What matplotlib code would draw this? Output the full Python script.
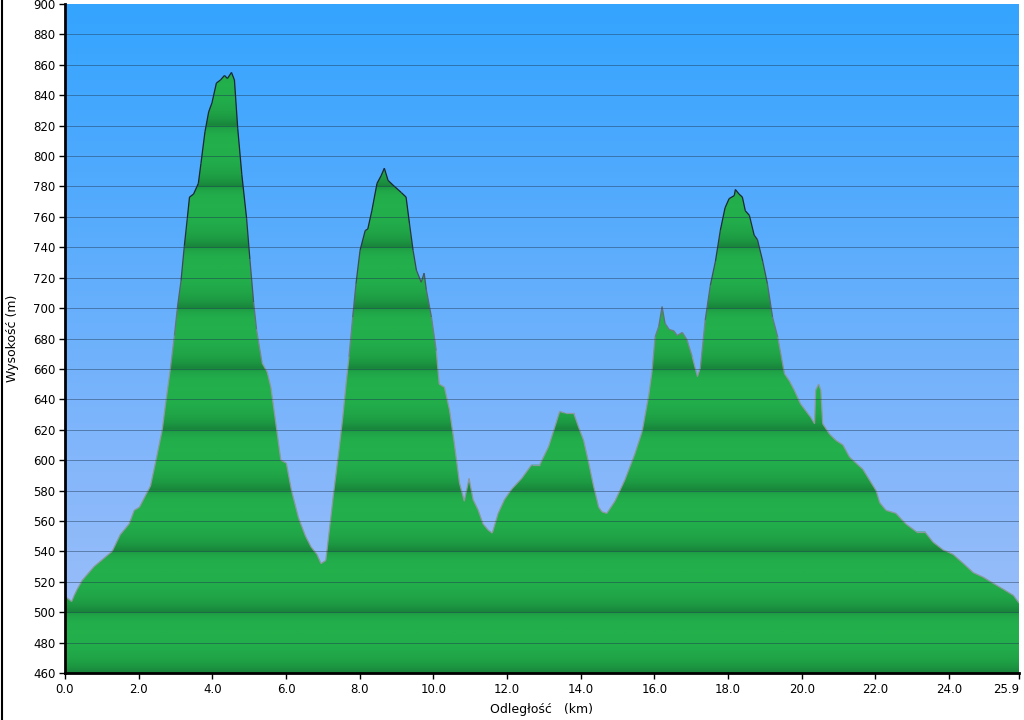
#!/usr/bin/env python3
# -*- coding: utf-8 -*-

r""" Elevation profile (profil wysokości) """

import numpy as np
from matplotlib import pyplot as plt
from matplotlib.colors import LinearSegmentedColormap
from matplotlib.collections import LineCollection
from matplotlib.lines import Line2D

# distance [km] and elevation [m]
dist_km = [0.00, 0.08, 0.18, 0.25, 0.33, 0.47, 0.79, 1.28, 1.50, 1.74,
           1.88, 2.02, 2.32, 2.48, 2.64, 2.73, 2.86, 2.97, 3.05, 3.15,
           3.24, 3.32, 3.38, 3.49, 3.62, 3.69, 3.80, 3.90, 3.99, 4.11,
           4.22, 4.33, 4.41, 4.52, 4.60, 4.69, 4.80, 4.93, 5.02, 5.12,
           5.20, 5.35, 5.49, 5.59, 5.72, 5.86, 6.01, 6.15, 6.34, 6.53,
           6.68, 6.84, 6.95, 7.08, 7.22, 7.30, 7.44, 7.54, 7.63, 7.71,
           7.81, 7.90, 8.01, 8.15, 8.22, 8.33, 8.47, 8.58, 8.67, 8.77,
           8.90, 9.13, 9.26, 9.35, 9.45, 9.54, 9.67, 9.75, 9.81, 9.95,
           10.08, 10.16, 10.30, 10.44, 10.57, 10.71, 10.84, 10.97, 11.08, 11.22,
           11.35, 11.49, 11.60, 11.76, 11.93, 12.13, 12.40, 12.67, 12.89, 13.13,
           13.30, 13.43, 13.57, 13.81, 13.94, 14.08, 14.22, 14.35, 14.49, 14.58,
           14.71, 14.93, 15.20, 15.47, 15.67, 15.85, 15.94, 16.02, 16.12, 16.21,
           16.29, 16.40, 16.53, 16.62, 16.76, 16.89, 17.03, 17.17, 17.25, 17.38,
           17.52, 17.66, 17.79, 17.92, 18.03, 18.17, 18.20, 18.30, 18.39, 18.47,
           18.58, 18.71, 18.80, 18.94, 19.07, 19.21, 19.35, 19.53, 19.67, 19.80,
           19.97, 20.25, 20.35, 20.38, 20.46, 20.52, 20.57, 20.76, 20.93, 21.12,
           21.30, 21.66, 22.02, 22.12, 22.29, 22.56, 22.83, 23.11, 23.34, 23.57,
           23.84, 24.11, 24.39, 24.66, 24.93, 25.20, 25.48, 25.75, 25.90]
elev_m = [510, 509, 507, 511, 515, 521, 530, 540, 551, 558,
          567, 569, 583, 601, 620, 637, 660, 682, 700, 718,
          741, 759, 773, 775, 782, 795, 816, 829, 835, 848,
          850, 853, 851, 855, 850, 818, 788, 759, 732, 704,
          686, 664, 658, 648, 625, 600, 598, 580, 562, 550,
          543, 538, 532, 534, 563, 580, 607, 628, 650, 668,
          694, 716, 738, 751, 752, 764, 782, 787, 792, 784,
          781, 776, 773, 756, 738, 725, 717, 723, 712, 694,
          672, 650, 648, 633, 611, 585, 573, 588, 574, 567,
          558, 554, 552, 565, 574, 581, 588, 597, 597, 609,
          622, 632, 631, 631, 622, 613, 598, 583, 569, 566,
          565, 573, 587, 604, 619, 643, 659, 681, 688, 701,
          690, 686, 685, 682, 684, 679, 668, 655, 661, 692,
          715, 731, 751, 766, 772, 774, 778, 775, 773, 764,
          761, 748, 745, 731, 716, 694, 681, 657, 652, 646,
          637, 628, 624, 646, 650, 646, 624, 617, 613, 610,
          602, 594, 580, 572, 567, 565, 558, 553, 553, 546,
          541, 538, 532, 526, 523, 519, 515, 511, 506]

y_ticks = list(range(460, 901, 20))
x_ticks = [0.0, 2.0, 4.0, 6.0, 8.0, 10.0, 12.0, 14.0, 16.0, 18.0, 20.0,
           22.0, 24.0, 25.9]

if __name__ == "__main__":
    fig = plt.figure(figsize=(10.24, 7.2), dpi=100)
    ax = fig.add_axes([65 / 1024, 47 / 720, 954 / 1024, 669 / 720])
    x0, x1, y0, y1 = 0.0, 25.9, 460, 900
    ax.set_xlim(x0, x1)
    ax.set_ylim(y0, y1)

    # sky: blue vertical gradient
    sky = LinearSegmentedColormap.from_list(
        "sky", ["#a2c0f8", "#82b6fb", "#58acfd", "#34a4ff"])
    grad = np.linspace(0, 1, 256).reshape(-1, 1)
    ax.imshow(grad, cmap=sky, origin="lower", aspect="auto",
              extent=[x0, x1, y0, y1], zorder=0)

    # terrain: green, soft darker band around every 40 m line
    yy = np.linspace(y0, y1, 3000)
    t = ((yy - 460) % 40) / 40.0
    dark = np.exp(-t / 0.22) + 0.55 * np.exp(-(1 - t) / 0.1)
    band = 1 - np.clip(dark, 0, 1)
    green = LinearSegmentedColormap.from_list(
        "green", ["#18823a", "#1d9a43", "#23b04c"])
    img = ax.imshow(band.reshape(-1, 1), cmap=green, origin="lower",
                    aspect="auto", extent=[x0, x1, y0, y1], zorder=1,
                    interpolation="bilinear")
    poly = ax.fill_between(dist_km, elev_m, y0, facecolor="none",
                           edgecolor="none", zorder=1)
    img.set_clip_path(poly.get_paths()[0], transform=ax.transData)

    # outline: grey low down, dark navy near the summits
    pts = np.column_stack([dist_km, elev_m])
    segs = np.stack([pts[:-1], pts[1:]], axis=1)
    mid = (np.array(elev_m[:-1]) + np.array(elev_m[1:])) / 2
    w = np.clip((mid - 660) / 100.0, 0, 1)[:, None]
    c_lo = np.array([0.55, 0.60, 0.62])
    c_hi = np.array([0.10, 0.15, 0.20])
    cols = c_lo * (1 - w) + c_hi * w
    ax.add_collection(LineCollection(segs, colors=cols, linewidths=0.9,
                                     zorder=2))

    for yv in y_ticks[1:-1]:
        ax.axhline(yv, color="#1d3550", lw=0.7, alpha=0.45, zorder=3)

    ax.set_xticks(x_ticks)
    ax.set_xticklabels(["{:.1f}".format(v) for v in x_ticks])
    ax.get_xticklabels()[-1].set_horizontalalignment("right")
    ax.set_yticks(y_ticks)
    ax.tick_params(labelsize=8.5, length=4, width=1, colors="black", pad=3)
    for s in ["top", "right"]:
        ax.spines[s].set_visible(False)
    for s in ["left", "bottom"]:
        ax.spines[s].set_linewidth(2)
        ax.spines[s].set_zorder(5)
    ax.set_ylabel("Wysokość (m)", fontsize=9, labelpad=10)
    ax.set_xlabel("Odległość   (km)", fontsize=9, labelpad=5)

    # thin frame line on the left edge of the image
    fig.add_artist(Line2D([1.5 / 1024, 1.5 / 1024], [0, 1], color="black",
                          lw=1.5, transform=fig.transFigure))

    fig.savefig("out.png", dpi=100)
